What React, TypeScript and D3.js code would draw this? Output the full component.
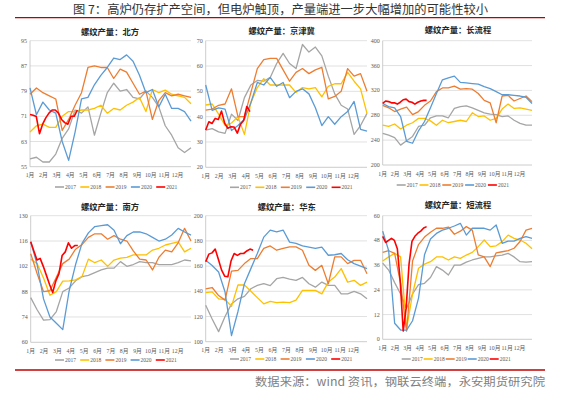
import React from "react";
import * as d3 from "d3";

const years = ["2017", "2018", "2019", "2020", "2021"];
const monthLabels = ["1月", "2月", "3月", "4月", "5月", "6月", "7月", "8月", "9月", "10月", "11月", "12月"];

// 北方
const northTicks = [55, 63, 71, 79, 87, 95];
const north2017 = [57.5, 58, 56.5, 56.5, 59, 64, 67, 73, 72, 74, 65, 72, 78.5, 81.5, 79, 79.5, 77, 76.5, 79, 77, 74, 68, 65, 61, 59.5, 61];
const north2018 = [66, 68, 68.5, 67.5, 67.5, 71, 72.5, 72.5, 73, 73, 73.5, 74.5, 72, 73.5, 73, 74.5, 75.5, 77, 72.5, 79.5, 78.5, 79.3, 78, 77.5, 77, 75];
const north2019 = [78, 80, 78.5, 77.5, 76.5, 66.5, 70, 74.5, 78.5, 86.5, 87, 86.5, 86.5, 83, 86, 85, 81.5, 78, 79, 70, 76, 78.5, 77.5, 78, 77.5, 77];
const north2020 = [80, 71.5, 75.5, 73, 72, 63, 57, 66, 76.5, 77, 81, 84, 86.5, 89.5, 89, 90.5, 88.5, 84, 78.5, 79.5, 74, 78, 73.5, 73.5, 72.5, 69.5];
const north2021 = [71.6, 71.3, 70.9, 65.5, 68.5, 70.5, 72, 73, 73, 72, 70, 69, 68.5, 71, 71, 73];

// 京津冀
const jjjTicks = [20, 30, 40, 50, 60, 70];
const jjj2017 = [34.7, 35.3, 34, 33.4, 41, 38.5, 47.5, 52.5, 54.3, 54, 55.5, 61, 65, 61, 59, 68.5, 65.5, 67.5, 64, 56, 49, 44.5, 43, 33, 36.5, 41.3];
const jjj2018 = [44.6, 45, 41, 36.5, 37.5, 40, 33, 45.5, 51.5, 55, 52.5, 52.5, 52.5, 52.5, 49.5, 51.5, 51, 51.5, 47.8, 52, 53, 53, 57.5, 54, 51, 41.3];
const jjj2019 = [42.6, 43, 44.5, 45, 51, 40, 40, 49.5, 59, 62.5, 63, 63, 58.5, 54, 57.5, 59, 57, 58.5, 59.5, 47, 48, 50, 59, 56, 57, 50];
const jjj2020 = [52.5, 42.5, 43.5, 43, 34.5, 36.5, 39, 45.5, 53.5, 52.5, 55.5, 52, 53.5, 47.5, 50, 51, 49, 43.5, 36.5, 40, 37, 40, 42, 46, 35, 34.3];
const jjj2021 = [34.7, 38, 37.3, 39.3, 38.9, 42.2, 37.4, 35.4, 36, 35.9, 33.5, 37, 38.5, 44, 42];

// 长流程
const longTicks = [200, 240, 280, 320, 360, 400];
const long2017 = [251, 248, 244, 232, 239, 246, 262, 264, 276, 279, 279, 276, 291, 294, 295, 292, 288, 284, 282, 281, 278, 279, 272, 267, 264, 264];
const long2018 = [264, 262, 266, 258, 264, 268, 275, 275, 271, 264, 272, 268, 270, 272, 270, 284, 278, 279, 272, 275, 290, 298, 291, 292, 290, 288];
const long2019 = [296, 292, 286, 290, 293, 281, 286, 296, 303, 318, 324, 324, 327, 322, 323, 322, 315, 304, 300, 268, 311, 312, 303, 307, 311, 302];
const long2020 = [299, 294, 292, 278, 238, 235, 255, 270, 292, 315, 337, 340, 343, 333, 332, 331, 330, 326, 323, 318, 313, 313, 312, 311, 309, 299];
const long2021 = [299, 303, 302, 300, 300, 298, 301, 305, 306, 302, 301, 298, 301, 303, 304, 304];

// 南方
const southTicks = [60, 74, 88, 102, 116, 130];
const south2017 = [84.7, 78, 72.3, 72.5, 77, 88, 90, 94, 96.3, 97, 98.5, 100, 101, 101, 104.6, 102, 103, 104.6, 104, 104, 103, 103, 103, 104, 105.5, 105];
const south2018 = [106, 103.5, 95.5, 86, 88, 93.8, 94, 94.5, 96.3, 106, 104, 105.5, 102, 105.5, 106.5, 107, 108.3, 108.3, 108.3, 111, 112, 113.8, 114.7, 115.5, 110, 112];
const south2019 = [109, 98, 88, 88.5, 96, 103.5, 106, 111.5, 114, 118, 120, 120, 117, 119, 117, 116, 110.5, 106, 105.5, 100, 107, 111, 110, 115, 123, 116];
const south2020 = [115.6, 103, 84, 74, 70.5, 67, 88.5, 103, 114.7, 120.5, 124, 124.5, 125, 122, 114.5, 119, 121, 121, 120, 118, 116, 117, 119.3, 123, 121, 119.3];
const south2021 = [115.6, 110.5, 105.5, 106.4, 102, 97, 92, 87.5, 94, 98, 108, 110, 115, 112, 113.5, 113.5];

// 华东
const eastTicks = [100, 120, 140, 160, 180, 200];
const east2017 = [129, 118, 108, 120, 130, 134, 136, 142, 144.7, 146, 144.5, 150, 151, 149.7, 148.7, 151, 146, 143.3, 147.3, 144.7, 144.7, 138, 138, 140, 138, 134];
const east2018 = [139, 139.5, 134, 133.5, 128, 145, 145, 140, 135, 130, 132, 131, 131.4, 131, 133, 140.7, 140.7, 140.7, 138, 147.3, 151.3, 158, 147.3, 148.7, 144.7, 147.3];
const east2019 = [142, 143, 136.6, 133, 156, 156.6, 162, 166, 166, 174, 176, 172.6, 174, 175.3, 175.3, 172.6, 160.6, 156.6, 160.6, 146, 167.3, 167.3, 162, 164.6, 164.6, 154];
const east2020 = [164.6, 160.5, 155.3, 139.4, 104.8, 124, 146, 158, 170, 183, 188.6, 187.2, 188.6, 179, 178, 176, 175, 174, 175, 168.6, 169, 170, 165, 162, 160, 158];
const east2021 = [163.5, 169.5, 170.5, 173.5, 165.5, 157, 152, 151.5, 164, 170, 168.5, 170, 170, 172, 173.5, 172.5];

// 短流程
const shortTicks = [0, 12, 24, 36, 48, 60];
const short2017 = [37, 33.6, 27.5, 22, 15, 22, 26.5, 27.2, 30, 35.3, 33.6, 31.2, 36, 36, 37.5, 38.5, 39.3, 40, 40, 40.5, 40.9, 41.7, 40, 37.7, 37.5, 37.7];
const short2018 = [38, 40, 41.7, 40, 5.3, 22, 34.5, 36.5, 37.7, 40, 40, 38.5, 40, 39.3, 40.9, 42.2, 45, 48.2, 45, 45.4, 47.4, 50.6, 49, 48.2, 46.6, 44];
const short2019 = [42.2, 43, 41.7, 27, 4, 38, 46, 49.6, 52, 53.9, 53.9, 54.5, 51, 52.5, 54.7, 53, 41, 40, 35.3, 42, 42.5, 43, 44.2, 47.5, 53, 53.9];
const short2020 = [52.5, 43, 7.8, 4.5, 4.5, 9, 20, 41, 48.7, 51.4, 53, 53.9, 55, 56.3, 50.6, 53.9, 53.9, 53.9, 53, 55.5, 46.6, 47.7, 47.7, 49, 49.8, 49];
const short2021 = [50, 47, 48, 49, 48, 44, 28, 4, 15, 36.5, 47.5, 50, 51.5, 52.5, 54, 54.7];

const colors = ["#a5a5a5", "#ffc000", "#ed7d31", "#5b9bd5", "#ff0000"];
const widths = [1.3, 1.3, 1.3, 1.3, 1.6];

const panels = [
  { title: "螺纹产量：北方", ticks: northTicks, series: [north2017, north2018, north2019, north2020, north2021],
    box: { left: 30, right: 191, top: 40.7, bottom: 166.7, tx: 110, ty: 32, lx: 55, ly: 187, step: 25.3 } },
  { title: "螺纹产量：京津冀", ticks: jjjTicks, series: [jjj2017, jjj2018, jjj2019, jjj2020, jjj2021],
    box: { left: 205.7, right: 367, top: 40.7, bottom: 167.3, tx: 281.7, ty: 31, lx: 230, ly: 187.3, step: 25.4 } },
  { title: "螺纹产量：长流程", ticks: longTicks, series: [long2017, long2018, long2019, long2020, long2021],
    box: { left: 382.7, right: 532, top: 40.7, bottom: 165, tx: 458, ty: 30, lx: 396.7, ly: 185, step: 22.8 } },
  { title: "螺纹产量：南方", ticks: southTicks, series: [south2017, south2018, south2019, south2020, south2021],
    box: { left: 30.7, right: 191, top: 215.7, bottom: 342.3, tx: 110, ty: 207, lx: 55, ly: 360, step: 25.2 } },
  { title: "螺纹产量：华东", ticks: eastTicks, series: [east2017, east2018, east2019, east2020, east2021],
    box: { left: 205.7, right: 367, top: 215.7, bottom: 341.7, tx: 286.7, ty: 206.5, lx: 230, ly: 359, step: 25.3 } },
  { title: "螺纹产量：短流程", ticks: shortTicks, series: [short2017, short2018, short2019, short2020, short2021],
    box: { left: 382.7, right: 532, top: 215.7, bottom: 339.3, tx: 458, ty: 205, lx: 401.7, ly: 359, step: 22 } },
];

const tickFont = "'Liberation Serif', 'Noto Sans CJK SC', serif";
const cjkFont = "'Noto Sans CJK SC', sans-serif";

const Panel: React.FC<{ p: typeof panels[number] }> = ({ p }) => {
  const b = p.box;
  const x = d3.scaleLinear().domain([0, 51]).range([b.left, b.right]);
  const y = d3.scaleLinear().domain([p.ticks[0], p.ticks[p.ticks.length - 1]]).range([b.bottom, b.top]);

  return (
    <g>
      <text x={b.tx} y={b.ty + 3} textAnchor="middle" fontFamily={cjkFont} fontWeight="bold" fontSize={8.3} fill="#262626">
        {p.title}
      </text>
      {p.ticks.map(t => (
        <g key={t}>
          <line x1={b.left} x2={b.right} y1={y(t)} y2={y(t)} stroke={t === p.ticks[0] ? "#bfbfbf" : "#d9d9d9"} strokeWidth={0.8} />
          <text x={b.left - 3} y={y(t) + 2} textAnchor="end" fontFamily={tickFont} fontSize={6} fill="#595959">{t}</text>
        </g>
      ))}
      <line x1={b.left} x2={b.left} y1={b.top} y2={b.bottom} stroke="#bfbfbf" strokeWidth={0.8} />
      {monthLabels.map((m, i) => (
        <text key={m} x={x((i * 51) / 12)} y={b.bottom + 10.5} textAnchor="middle" fontFamily={tickFont} fontSize={5.8} fill="#595959">{m}</text>
      ))}
      {p.series.map((s, k) => {
        const isCurrent = k === years.length - 1;
        const line = d3
          .line<number>()
          .x((_, i) => x(isCurrent ? i : (i * 51) / (s.length - 1)))
          .y(d => y(d));
        return (
          <path key={k} d={line(s) || ""} fill="none" stroke={colors[k]} strokeWidth={widths[k]} strokeLinejoin="round" />
        );
      })}
      {years.map((yr, k) => (
        <g key={yr}>
          <line x1={b.lx + k * b.step} x2={b.lx + k * b.step + 9} y1={b.ly} y2={b.ly} stroke={colors[k]} strokeWidth={1.6} />
          <text x={b.lx + k * b.step + 10} y={b.ly + 2} fontFamily={tickFont} fontSize={5.5} fill="#595959">{yr}</text>
        </g>
      ))}
    </g>
  );
};

const App: React.FC = () => {
  return (
    <svg width={562} height={393} style={{ position: "absolute", left: 0, top: 0, background: "#fff", display: "block" }}>
      <rect x={0} y={0} width={562} height={393} fill="#fff" />
      <text x={280.5} y={14.2} textAnchor="middle" fontFamily={cjkFont} fontSize={12} fill="#333" textLength={415} lengthAdjust="spacingAndGlyphs">
        图 7：高炉仍存扩产空间，但电炉触顶，产量端进一步大幅增加的可能性较小
      </text>
      <line x1={15} x2={545} y1={17.7} y2={17.7} stroke="#c00000" strokeWidth={1.3} />
      {panels.map(p => (
        <Panel key={p.title} p={p} />
      ))}
      <line x1={15} x2={545} y1={370} y2={370} stroke="#c00000" strokeWidth={1.3} />
      <text x={545} y={386} textAnchor="end" fontFamily={cjkFont} fontSize={11.5} fill="#7f7f7f" textLength={290} lengthAdjust="spacingAndGlyphs">
        数据来源：wind 资讯，钢联云终端，永安期货研究院
      </text>
    </svg>
  );
};

export default App;
